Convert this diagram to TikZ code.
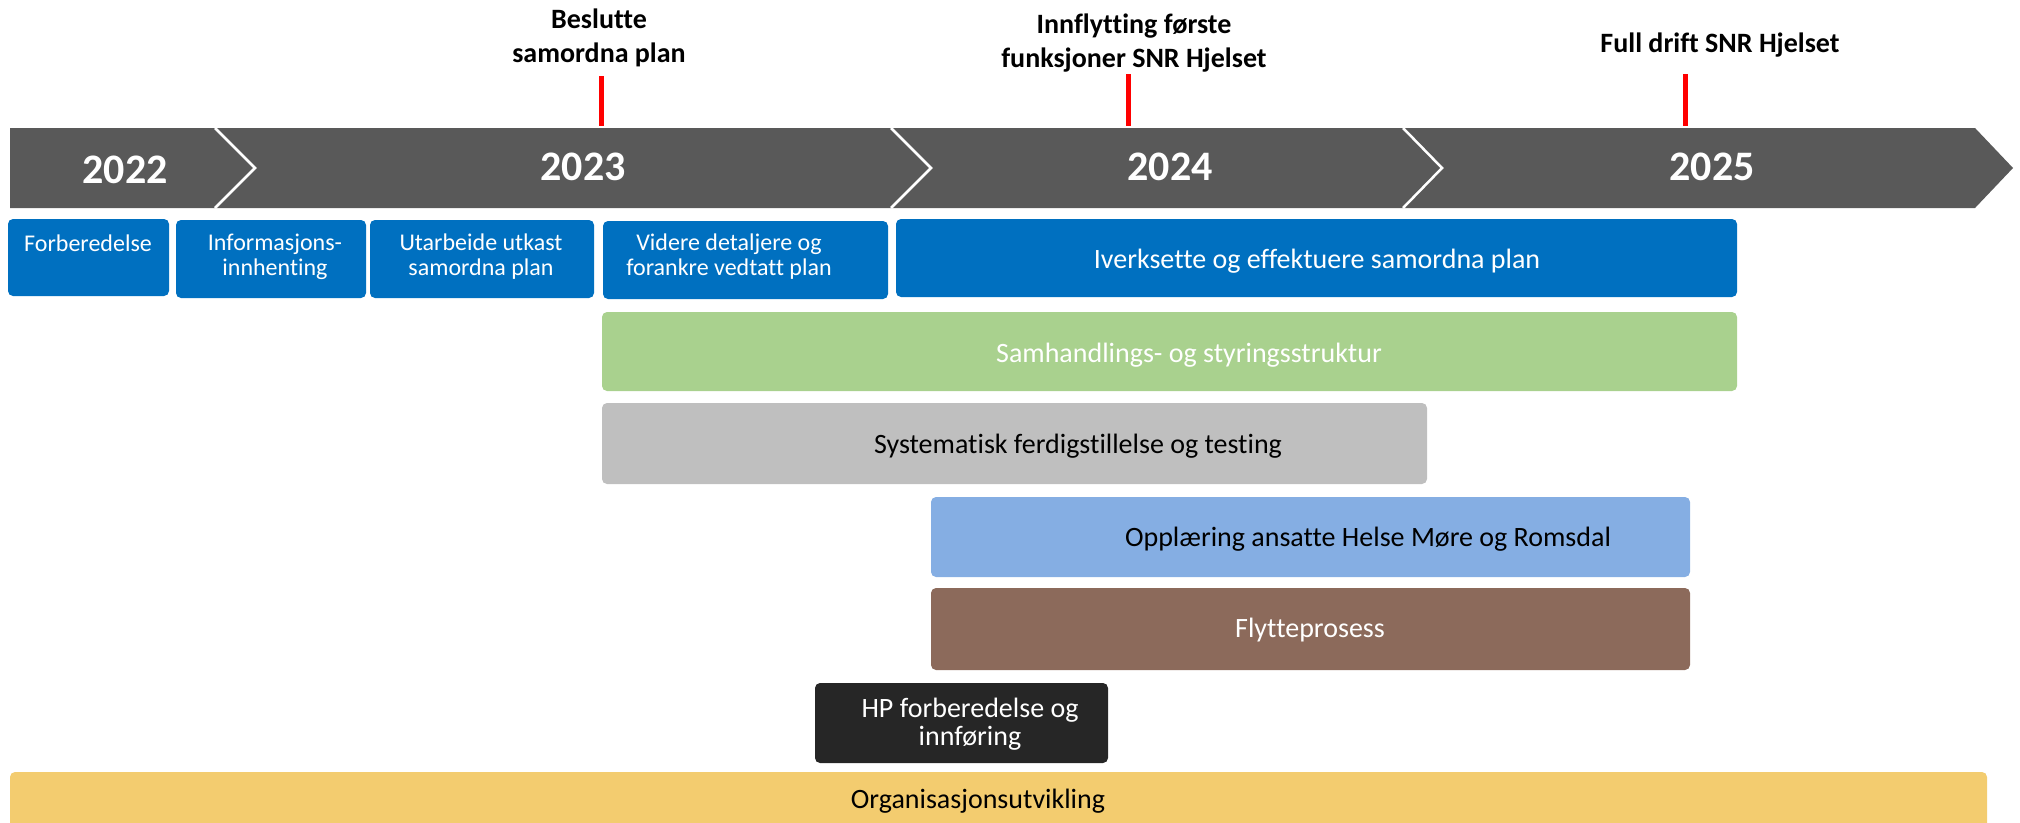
\documentclass[tikz,border=0pt]{standalone}
\usepackage{fontspec}
\setmainfont{Carlito}[Ligatures=NoCommon]
\usetikzlibrary{fit}
\definecolor{barGray}{HTML}{595959}
\definecolor{cBlue}{HTML}{0070C0}
\definecolor{cGreen}{HTML}{A9D18E}
\definecolor{cGray}{HTML}{BFBFBF}
\definecolor{cLight}{HTML}{85AEE3}
\definecolor{cBrown}{HTML}{8C6A5B}
\definecolor{cBlack}{HTML}{262626}
\definecolor{cYellow}{HTML}{F3CC6F}
\definecolor{cRed}{HTML}{FF0000}
\begin{document}
\begin{tikzpicture}[x=1pt,y=-1pt,
  box/.style={rounded corners=5pt, inner sep=0pt, outer sep=0pt, draw=none},
  yearlbl/.style={font=\fontsize{42}{50}\selectfont\bfseries, text=white, anchor=base, inner sep=0pt},
  milelbl/.style={font=\fontsize{28}{34}\selectfont\bfseries, text=black, anchor=base, align=center, inner sep=0pt},
  smalllbl/.style={font=\fontsize{24}{25}\selectfont, text=white, anchor=base, align=center, inner sep=0pt},
  biglbl/.style={font=\fontsize{28}{28}\selectfont, anchor=base, align=center, inner sep=0pt},
  sep/.style={draw=white, line width=2.5pt},
  tick/.style={draw=cRed, line width=5pt}
]
\useasboundingbox (0,0) rectangle (2020,822);
\clip (0,0) rectangle (2020,822);

% timeline bar
\fill[barGray] (10,128) -- (1975,128) -- (2013,168) -- (1975,208) -- (10,208) -- cycle;
\draw[sep] (215,128) -- (255,168) -- (215,208);
\draw[sep] (891,128) -- (931,168) -- (891,208);
\draw[sep] (1403,128) -- (1442,168) -- (1403,208);

\node[yearlbl] (y22) at (125,183) {2022};
\node[yearlbl] (y23) at (583,180) {2023};
\node[yearlbl] (y24) at (1170,180) {2024};
\node[yearlbl] (y25) at (1712,180) {2025};

% milestones
\draw[tick] (601,76) -- (601,126);
\draw[tick] (1128,74) -- (1128,126);
\draw[tick] (1685,74) -- (1685,126);
\node[milelbl] (m1) at (599,62) {Beslutte\\samordna plan};
\node[milelbl] (m2) at (1134,67) {Innflytting første\\funksjoner SNR Hjelset};
\node[milelbl] (m3) at (1720,52) {Full drift SNR Hjelset};

% row 1
\node[box, fill=cBlue, fit={(8,219) (169,296)}] (b1) {};
\node[box, fill=cBlue, fit={(176,220) (366,298)}] (b2) {};
\node[box, fill=cBlue, fit={(370,220) (594,298)}] (b3) {};
\node[box, fill=cBlue, fit={(603,221) (888,299)}] (b4) {};
\node[box, fill=cBlue, fit={(896,219) (1737,297)}] (b5) {};
\node[smalllbl] (t1) at (88,251) {Forberedelse};
\node[smalllbl] (t2) at (275,275) {Informasjons-\\innhenting};
\node[smalllbl] (t3) at (481,275) {Utarbeide utkast\\samordna plan};
\node[smalllbl] (t4) at (729,275) {Videre detaljere og\\forankre vedtatt plan};
\node[biglbl, text=white] (t5) at (1317,268) {Iverksette og effektuere samordna plan};

% other rows
\node[box, fill=cGreen, fit={(602,312) (1737,391)}] (g) {};
\node[biglbl, text=white] (tg) at (1189,362) {Samhandlings- og styringsstruktur};
\node[box, fill=cGray, fit={(602,403) (1427,484)}] (s) {};
\node[biglbl, text=black] (ts) at (1078,453) {Systematisk ferdigstillelse og testing};
\node[box, fill=cLight, fit={(931,497) (1690,577)}] (o) {};
\node[biglbl, text=black] (to) at (1368,546) {Opplæring ansatte Helse Møre og Romsdal};
\node[box, fill=cBrown, fit={(931,588) (1690,670)}] (f) {};
\node[biglbl, text=white] (tf) at (1310,637) {Flytteprosess};
\node[box, fill=cBlack, fit={(815,683) (1108,763)}] (h) {};
\node[biglbl, text=white] (th) at (970,745) {HP forberedelse og\\innføring};
\node[box, fill=cYellow, fit={(10,772) (1987,840)}] (org) {};
\node[biglbl, text=black] (torg) at (978,808) {Organisasjonsutvikling};
\end{tikzpicture}
\end{document}
